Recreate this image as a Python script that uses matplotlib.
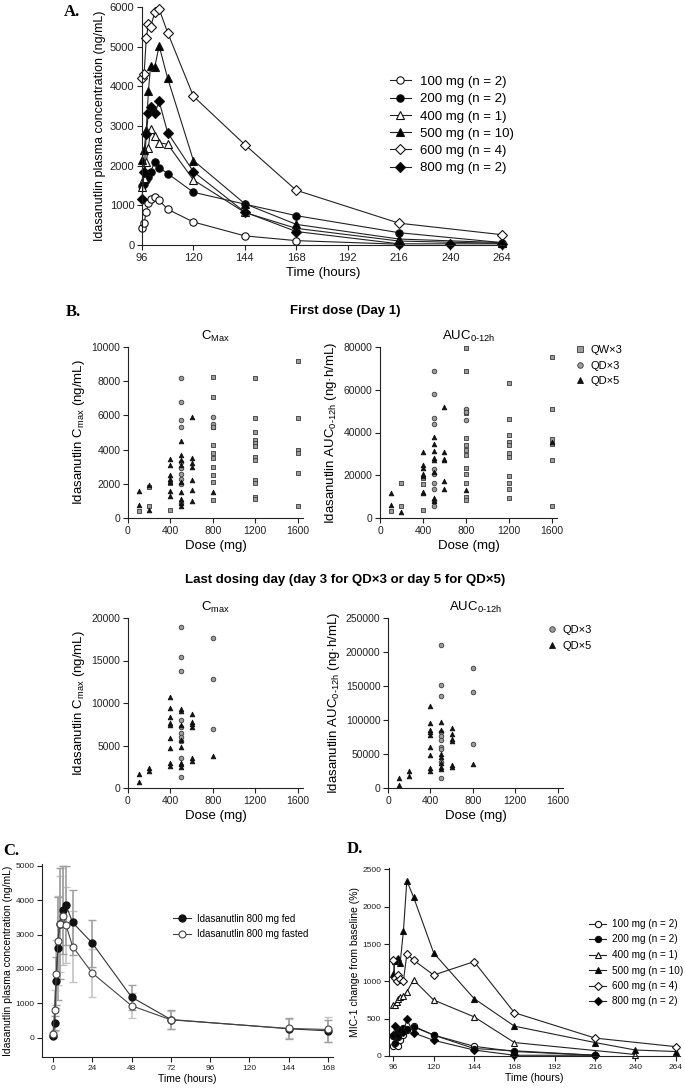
import numpy as np
import matplotlib
matplotlib.use('Agg')
import matplotlib.pyplot as plt
from matplotlib.lines import Line2D

plt.rcParams['font.family'] = ['Liberation Sans', 'DejaVu Sans']
plt.rcParams['mathtext.fontset'] = 'custom'
plt.rcParams['mathtext.rm'] = 'Liberation Sans'
plt.rcParams['mathtext.it'] = 'Liberation Sans:italic'
plt.rcParams['axes.linewidth'] = 0.8

nan = np.nan

# ---- panel A: plasma concentration (ng/mL) vs time
time_a = [96, 97, 98, 99, 100, 102, 104, 108, 120, 144, 168, 216, 240, 264]
labels_a = ['100 mg (n = 2)', '200 mg (n = 2)', '400 mg (n = 1)',
            '500 mg (n = 10)', '600 mg (n = 4)', '800 mg (n = 2)']
conc_100 = [420, 560, 830, 1050, 1170, 1200, 1130, 900, 580, 230, 110, 20, nan, nan]
conc_200 = [1480, 1550, 1650, 1720, 1850, 2100, 1950, 1800, 1330, 1030, 740, 310, nan, 60]
conc_400 = [1450, 1700, 2100, 2450, 2920, 2760, 2580, 2540, 1640, 820, 420, 100, nan, 40]
conc_500 = [2150, 2400, 2900, 3880, 4520, 4500, 5020, 4200, 2130, 1040, 520, 150, nan, 60]
conc_600 = [4220, 4320, 5220, 5560, 5500, 5870, 5950, 5350, 3750, 2530, 1380, 550, nan, 260]
conc_800 = [1160, 1850, 2800, 3330, 3480, 3320, 3620, 2830, 1850, 830, 340, 30, 30, 30]

# ---- panel B: first dose and last dosing day, dose (mg) -> individual values
cmax1_qw3 = {100: [430], 200: [1830, 680], 400: [2050, 450],
             800: [8250, 7100, 5300, 4250, 3800, 3500, 3000, 2500, 2100, 1050],
             1200: [8200, 5850, 5050, 4550, 4400, 4200, 3550, 3400, 2200, 2050, 1250, 1100],
             1600: [9200, 5850, 3950, 3800, 2650, 730]}
cmax1_qd3 = {500: [8200, 6800, 5750, 5300, 3300, 2900, 2600, 2300, 2000, 900],
             800: [5900, 5500, 5300]}
cmax1_qd5 = {100: [1600, 750], 200: [1950, 450],
             400: [3450, 3100, 2500, 2300, 2100, 1550, 1300],
             500: [4500, 3700, 3400, 3100, 2100, 1500, 1100, 850, 700],
             600: [5900, 3500, 3200, 3000, 2250, 1650, 1000], 800: [1500]}

auc1_qw3 = {100: [3300], 200: [16500, 5500], 400: [18500, 16000, 3700],
            800: [79500, 69000, 50500, 49000, 37500, 34000, 32000, 29500, 23500, 20500, 16500, 10000, 8500],
            1200: [63000, 46500, 39000, 35500, 34000, 30500, 28500, 19500, 16500, 13500, 9500],
            1600: [75500, 51000, 37000, 34500, 27000, 5500]}
auc1_qd3 = {500: [69000, 58000, 47000, 44000, 23000, 20500, 16500, 13500, 8000, 5500],
            800: [51000, 49500, 46000]}
auc1_qd5 = {100: [11500, 6000], 200: [2800],
            400: [31000, 25000, 23500, 20500, 19500, 12000, 11500],
            500: [38000, 34500, 31500, 28000, 27000, 21500, 9500, 8000],
            600: [52000, 31000, 27500, 27000, 17500, 13500], 800: [13000], 1600: [35500]}

cmax2_qd3 = {500: [19000, 15400, 13800, 8000, 7200, 6500, 6000, 5500, 3500, 1300],
             800: [17700, 12800, 6900]}
cmax2_qd5 = {100: [1700, 700], 200: [2300, 2000],
             400: [10700, 9400, 8400, 7600, 7400, 5900, 4700, 2900, 2600],
             500: [9300, 9100, 7400, 5600, 4800, 3000, 2800, 2500],
             600: [8700, 7800, 7500, 7200, 3500, 3200], 800: [3800]}
auc2_qd3 = {500: [210000, 152000, 136000, 83000, 76000, 70000, 60000, 57000, 38000, 14000],
            800: [177000, 141000, 65000]}
auc2_qd5 = {100: [15000, 5000], 200: [25000, 17000],
            400: [120000, 95000, 85000, 82000, 78000, 61000, 49000, 29000, 25000],
            500: [97000, 86000, 50000, 45000, 37000, 31000, 28000],
            600: [88000, 80000, 72000, 69000, 34000, 31000], 800: [36000]}

# ---- panel C: fed vs fasted, mean and SD
time_c = [0, 1, 2, 3, 4, 6, 8, 12, 24, 48, 72, 144, 168]
fed = [50, 420, 1650, 2600, 3320, 3710, 3850, 3350, 2750, 1180, 530, 260, 200]
fed_sd = [40, 200, 700, 1500, 1600, 1290, 1150, 950, 680, 360, 270, 300, 310]
fasted = [120, 800, 1850, 2820, 3300, 3550, 3270, 2650, 1880, 930, 520, 270, 240]
fasted_sd = [60, 600, 1000, 1300, 1400, 1450, 1110, 1020, 700, 370, 260, 280, 360]

# ---- panel D: MIC-1 change from baseline (%)
mic_100 = [130, 160, 150, 140, 220, 280, 350, 400, 280, 130, 60, 10, nan, nan]
mic_200 = [270, 180, 310, 260, 350, 370, 360, 390, 280, 100, 70, 10, nan, nan]
mic_400 = [680, 690, 720, 760, 790, 800, 860, 1020, 750, 525, 180, nan, 20, nan]
mic_500 = [1100, 1280, 1300, 1320, 1240, 1680, 2350, 2130, 1380, 770, 400, 180, 80, 60]
mic_600 = [1290, 1050, 1010, 1080, 1030, 1010, 1365, 1285, 1085, 1265, 580, 240, nan, 125]
mic_800 = [280, 400, 310, 280, 330, 320, 490, 310, 210, 80, 10, 10, nan, nan]

styles = [('o', 'white'), ('o', 'black'), ('^', 'white'),
          ('^', 'black'), ('D', 'white'), ('D', 'black')]

W, H = 685, 1089
fig = plt.figure(figsize=(W / 100, H / 100), dpi=100)


def box(x0, y_bottom, x1, y_top):
    return [x0 / W, 1 - y_bottom / H, (x1 - x0) / W, (y_bottom - y_top) / H]


def style_ax(ax, fs):
    for s in ['top', 'right']:
        ax.spines[s].set_visible(False)
    for s in ['left', 'bottom']:
        ax.spines[s].set_color('#222222')
    ax.tick_params(direction='out', length=3.5, width=0.8, labelsize=fs,
                   colors='#222222', pad=2)


def pk_lines(ax, t, series, ms):
    t = np.array(t)
    for vals, lab, (mk, fc) in zip(series, labels_a, styles):
        v = np.array(vals, dtype=float)
        m = ~np.isnan(v)
        size = ms * 0.9 if mk == 'D' else ms
        ax.plot(t[m], v[m], color='#222222', lw=0.8, marker=mk, ms=size,
                mfc=fc, mec='#111111', mew=0.8, label=lab, clip_on=False)


# ---------- A
axA = fig.add_axes(box(142, 245, 504, 7))
pk_lines(axA, time_a, [conc_100, conc_200, conc_400, conc_500, conc_600, conc_800], 5.3)
axA.set_xlim(96, 265)
axA.set_ylim(0, 6000)
axA.set_xticks([96, 120, 144, 168, 192, 216, 240, 264])
axA.set_yticks(range(0, 6001, 1000))
style_ax(axA, 8)
axA.set_xlabel('Time (hours)', fontsize=9.5, labelpad=3)
axA.set_ylabel('Idasanutlin plasma concentration (ng/mL)', fontsize=9, labelpad=3)
axA.legend(loc='upper left', bbox_to_anchor=(378 / W, 1 - 64 / H),
           bbox_transform=fig.transFigure, frameon=False, fontsize=9.5,
           handlelength=1.6, labelspacing=0.38, handletextpad=0.7)
fig.text(64 / W, 1 - 12 / H, 'A.', fontsize=12, fontweight='bold',
         family='Liberation Serif', va='center')


# ---------- B
def scatter_groups(ax, groups):
    for data, mk, fc, ec in groups:
        xs, ys = [], []
        for d, vals in data.items():
            xs += [d] * len(vals)
            ys += vals
        ax.scatter(xs, ys, marker=mk, s=11, facecolor=fc, edgecolor=ec,
                   linewidths=0.6, clip_on=False, zorder=3)


sq = ('s', '#9c9c9c', '#3a3a3a')
ci = ('o', '#9c9c9c', '#3a3a3a')
tr = ('^', '#111111', '#111111')

b_axes = [
    (box(128, 518, 303, 347), [(cmax1_qw3,) + sq, (cmax1_qd3,) + ci, (cmax1_qd5,) + tr],
     10000, 2000, 'C$_{\\mathrm{Max}}$', 'Idasanutlin C$_{\\mathrm{max}}$ (ng/mL)'),
    (box(380, 518, 557, 347), [(auc1_qw3,) + sq, (auc1_qd3,) + ci, (auc1_qd5,) + tr],
     80000, 20000, 'AUC$_{\\mathrm{0‐12h}}$', 'Idasanutlin AUC$_{\\mathrm{0‐12h}}$ (ng·h/mL)'),
    (box(128, 788, 303, 618), [(cmax2_qd3,) + ci, (cmax2_qd5,) + tr],
     20000, 5000, 'C$_{\\mathrm{max}}$', 'Idasanutlin C$_{\\mathrm{max}}$ (ng/mL)'),
    (box(388, 788, 563, 618), [(auc2_qd3,) + ci, (auc2_qd5,) + tr],
     250000, 50000, 'AUC$_{\\mathrm{0‐12h}}$', 'Idasanutlin AUC$_{\\mathrm{0‐12h}}$ (ng·h/mL)'),
]
for pos, groups, ymax, ystep, ttl, ylab in b_axes:
    ax = fig.add_axes(pos)
    scatter_groups(ax, groups)
    ax.set_xlim(0, 1650)
    ax.set_ylim(0, ymax)
    ax.set_xticks([0, 400, 800, 1200, 1600])
    ax.set_yticks(range(0, ymax + 1, ystep))
    style_ax(ax, 7.5)
    ax.set_title(ttl, fontsize=9.5, pad=5)
    ax.set_xlabel('Dose (mg)', fontsize=9.5, labelpad=3)
    ax.set_ylabel(ylab, fontsize=9.5, labelpad=3)

fig.text(345 / W, 1 - 311 / H, 'First dose (Day 1)', ha='center', va='center',
         fontsize=9.5, fontweight='bold')
fig.text(345 / W, 1 - 580 / H, 'Last dosing day (day 3 for QD×3 or day 5 for QD×5)',
         ha='center', va='center', fontsize=9.5, fontweight='bold')
fig.text(66 / W, 1 - 312 / H, 'B.', fontsize=12, fontweight='bold',
         family='Liberation Serif', va='center')

h_sq = Line2D([], [], ls='none', marker='s', ms=4, mfc='#9c9c9c', mec='#3a3a3a', mew=0.6)
h_ci = Line2D([], [], ls='none', marker='o', ms=4, mfc='#9c9c9c', mec='#3a3a3a', mew=0.6)
h_tr = Line2D([], [], ls='none', marker='^', ms=4.5, mfc='#111111', mec='#111111', mew=0.6)
fig.legend([h_sq, h_ci, h_tr], ['QW×3', 'QD×3', 'QD×5'], loc='upper left',
           bbox_to_anchor=(566 / W, 1 - 335 / H), frameon=False, fontsize=8,
           handlelength=0.8, handletextpad=0.5, labelspacing=0.5)
fig.legend([h_ci, h_tr], ['QD×3', 'QD×5'], loc='upper left',
           bbox_to_anchor=(538 / W, 1 - 615 / H), frameon=False, fontsize=8,
           handlelength=0.8, handletextpad=0.5, labelspacing=0.5)

# ---------- C
axC = fig.add_axes(box(42, 1057, 333, 864))
axC.errorbar(time_c, fasted, yerr=fasted_sd, fmt='none', ecolor='#c4c4c4',
             elinewidth=1.2, capsize=3, capthick=1, clip_on=False)
axC.errorbar(time_c, fed, yerr=fed_sd, fmt='none', ecolor='#a0a0a0',
             elinewidth=1.2, capsize=3, capthick=1, clip_on=False)
axC.plot(time_c, fed, color='#333333', lw=0.8, marker='o', ms=5, mfc='#111111',
         mec='#111111', label='Idasanutlin 800 mg fed', clip_on=False)
axC.plot(time_c, fasted, color='#444444', lw=0.8, marker='o', ms=5, mfc='white',
         mec='#444444', mew=0.8, label='Idasanutlin 800 mg fasted', clip_on=False)
axC.set_xlim(-6.7, 171)
axC.set_ylim(-560, 5050)
axC.set_xticks(range(0, 169, 24))
axC.set_yticks(range(0, 5001, 1000))
style_ax(axC, 6)
axC.set_xlabel('Time (hours)', fontsize=7.5, labelpad=2)
axC.set_ylabel('Idasanutlin plasma concentration (ng/mL)', fontsize=7.5, labelpad=2)
axC.legend(loc='upper left', bbox_to_anchor=(164 / W, 1 - 905 / H),
           bbox_transform=fig.transFigure, frameon=False, fontsize=7,
           handlelength=1.9, labelspacing=0.55, handletextpad=0.6)
fig.text(3 / W, 1 - 851 / H, 'C.', fontsize=12, fontweight='bold',
         family='Liberation Serif', va='center')

# ---------- D
axD = fig.add_axes(box(389, 1056, 680, 868))
pk_lines(axD, time_a, [mic_100, mic_200, mic_400, mic_500, mic_600, mic_800], 4.5)
axD.set_xlim(93.4, 266.5)
axD.set_ylim(0, 2520)
axD.set_xticks([96, 120, 144, 168, 192, 216, 240, 264])
axD.set_yticks(range(0, 2501, 500))
style_ax(axD, 6)
axD.set_xlabel('Time (hours)', fontsize=7.5, labelpad=2)
axD.set_ylabel('MIC-1 change from baseline (%)', fontsize=7.5, labelpad=2)
axD.legend(loc='upper left', bbox_to_anchor=(580 / W, 1 - 910 / H),
           bbox_transform=fig.transFigure, frameon=False, fontsize=7.2,
           handlelength=1.7, labelspacing=0.55, handletextpad=0.6)
fig.text(347 / W, 1 - 849 / H, 'D.', fontsize=12, fontweight='bold',
         family='Liberation Serif', va='center')

fig.savefig('out.png', dpi=100)
